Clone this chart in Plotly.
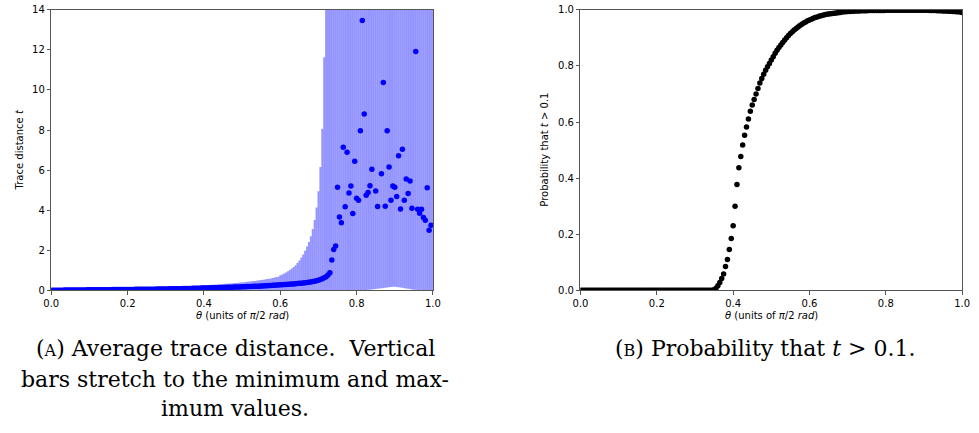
import plotly.graph_objects as go

# ---------------- data ----------------
theta = [
    0.000, 0.005, 0.010, 0.015, 0.020, 0.025, 0.030, 0.035, 0.040, 0.045,
    0.050, 0.055, 0.060, 0.065, 0.070, 0.075, 0.080, 0.085, 0.090, 0.095,
    0.100, 0.105, 0.110, 0.115, 0.120, 0.125, 0.130, 0.135, 0.140, 0.145,
    0.150, 0.155, 0.160, 0.165, 0.170, 0.175, 0.180, 0.185, 0.190, 0.195,
    0.200, 0.205, 0.210, 0.215, 0.220, 0.225, 0.230, 0.235, 0.240, 0.245,
    0.250, 0.255, 0.260, 0.265, 0.270, 0.275, 0.280, 0.285, 0.290, 0.295,
    0.300, 0.305, 0.310, 0.315, 0.320, 0.325, 0.330, 0.335, 0.340, 0.345,
    0.350, 0.355, 0.360, 0.365, 0.370, 0.375, 0.380, 0.385, 0.390, 0.395,
    0.400, 0.405, 0.410, 0.415, 0.420, 0.425, 0.430, 0.435, 0.440, 0.445,
    0.450, 0.455, 0.460, 0.465, 0.470, 0.475, 0.480, 0.485, 0.490, 0.495,
    0.500, 0.505, 0.510, 0.515, 0.520, 0.525, 0.530, 0.535, 0.540, 0.545,
    0.550, 0.555, 0.560, 0.565, 0.570, 0.575, 0.580, 0.585, 0.590, 0.595,
    0.600, 0.605, 0.610, 0.615, 0.620, 0.625, 0.630, 0.635, 0.640, 0.645,
    0.650, 0.655, 0.660, 0.665, 0.670, 0.675, 0.680, 0.685, 0.690, 0.695,
    0.700, 0.705, 0.710, 0.715, 0.720, 0.725, 0.730, 0.735, 0.740, 0.745,
    0.750, 0.755, 0.760, 0.765, 0.770, 0.775, 0.780, 0.785, 0.790, 0.795,
    0.800, 0.805, 0.810, 0.815, 0.820, 0.825, 0.830, 0.835, 0.840, 0.845,
    0.850, 0.855, 0.860, 0.865, 0.870, 0.875, 0.880, 0.885, 0.890, 0.895,
    0.900, 0.905, 0.910, 0.915, 0.920, 0.925, 0.930, 0.935, 0.940, 0.945,
    0.950, 0.955, 0.960, 0.965, 0.970, 0.975, 0.980, 0.985, 0.990, 0.995,
    1.000,
]

# average trace distance (values above 14 fall outside the visible range)
mean_t = [
    0.000, 0.001, 0.002, 0.003, 0.004, 0.005, 0.006, 0.007, 0.008, 0.009,
    0.010, 0.011, 0.012, 0.013, 0.014, 0.015, 0.016, 0.017, 0.018, 0.019,
    0.020, 0.021, 0.022, 0.023, 0.024, 0.025, 0.026, 0.027, 0.028, 0.029,
    0.030, 0.031, 0.032, 0.033, 0.034, 0.035, 0.036, 0.037, 0.038, 0.039,
    0.040, 0.041, 0.042, 0.043, 0.044, 0.045, 0.046, 0.047, 0.048, 0.049,
    0.050, 0.051, 0.053, 0.054, 0.056, 0.057, 0.059, 0.060, 0.062, 0.063,
    0.065, 0.067, 0.069, 0.071, 0.073, 0.075, 0.077, 0.079, 0.081, 0.083,
    0.085, 0.088, 0.090, 0.093, 0.095, 0.098, 0.100, 0.103, 0.105, 0.108,
    0.110, 0.113, 0.116, 0.119, 0.122, 0.125, 0.128, 0.131, 0.134, 0.137,
    0.140, 0.143, 0.146, 0.149, 0.152, 0.155, 0.158, 0.161, 0.164, 0.167,
    0.170, 0.174, 0.178, 0.182, 0.186, 0.190, 0.194, 0.198, 0.202, 0.206,
    0.210, 0.216, 0.222, 0.228, 0.234, 0.240, 0.246, 0.252, 0.258, 0.264,
    0.270, 0.276, 0.282, 0.289, 0.296, 0.303, 0.310, 0.318, 0.326, 0.335,
    0.345, 0.355, 0.366, 0.378, 0.391, 0.404, 0.418, 0.433, 0.449, 0.474,
    0.505, 0.540, 0.575, 0.620, 0.680, 0.760, 0.880, 1.510, 2.030, 2.210,
    5.140, 3.660, 3.370, 7.140, 4.170, 6.890, 4.860, 5.200, 3.830, 6.440,
    4.590, 4.500, 7.970, 13.470, 8.800, 4.750, 4.880, 5.220, 6.040, 16.500,
    4.950, 4.180, 15.800, 5.820, 10.380, 4.200, 7.960, 6.160, 4.490, 5.200,
    5.140, 4.680, 6.720, 4.060, 7.040, 4.500, 5.560, 4.830, 5.450, 4.100,
    17.200, 11.920, 4.050, 3.840, 4.050, 3.630, 3.500, 5.120, 3.000, 3.250,
    15.100,
]

# maximum trace distance (top of the vertical bars)
max_t = [
    0.000, 0.002, 0.004, 0.006, 0.008, 0.010, 0.012, 0.014, 0.016, 0.018,
    0.020, 0.022, 0.024, 0.026, 0.028, 0.030, 0.032, 0.034, 0.036, 0.038,
    0.040, 0.042, 0.044, 0.046, 0.048, 0.050, 0.052, 0.054, 0.056, 0.058,
    0.060, 0.062, 0.064, 0.066, 0.068, 0.070, 0.072, 0.074, 0.076, 0.078,
    0.080, 0.083, 0.086, 0.089, 0.092, 0.095, 0.098, 0.101, 0.104, 0.107,
    0.110, 0.113, 0.117, 0.120, 0.124, 0.127, 0.131, 0.134, 0.138, 0.141,
    0.145, 0.149, 0.153, 0.157, 0.161, 0.165, 0.169, 0.174, 0.179, 0.184,
    0.190, 0.195, 0.200, 0.205, 0.210, 0.216, 0.222, 0.228, 0.234, 0.240,
    0.246, 0.252, 0.258, 0.264, 0.270, 0.277, 0.284, 0.291, 0.298, 0.305,
    0.312, 0.319, 0.326, 0.334, 0.342, 0.350, 0.358, 0.366, 0.374, 0.383,
    0.392, 0.402, 0.412, 0.422, 0.433, 0.444, 0.456, 0.468, 0.481, 0.494,
    0.508, 0.523, 0.539, 0.556, 0.574, 0.593, 0.613, 0.634, 0.656, 0.680,
    0.750, 0.790, 0.840, 0.890, 0.950, 1.010, 1.080, 1.160, 1.250, 1.360,
    1.480, 1.640, 1.790, 1.970, 2.180, 2.410, 2.700, 3.060, 3.510, 4.130,
    4.940, 6.160, 8.060, 11.640, 22.000, 35.000, 48.0, 55.0, 60.0, 66.0,
    74.0, 70.0, 82.0, 90.0, 78.0, 95.0, 88.0, 102.0, 97.0, 110.0,
    105.0, 118.0, 125.0, 140.0, 132.0, 120.0, 128.0, 135.0, 142.0, 150.0,
    138.0, 130.0, 155.0, 145.0, 160.0, 136.0, 152.0, 148.0, 139.0, 144.0,
    150.0, 141.0, 158.0, 133.0, 162.0, 140.0, 147.0, 138.0, 143.0, 131.0,
    165.0, 170.0, 129.0, 126.0, 134.0, 122.0, 118.0, 137.0, 112.0, 115.0,
    150.0,
]

# minimum trace distance (bottom of the vertical bars)
min_t = [
    0.00, 0.00, 0.00, 0.00, 0.00, 0.00, 0.00, 0.00, 0.00, 0.00,
    0.00, 0.00, 0.00, 0.00, 0.00, 0.00, 0.00, 0.00, 0.00, 0.00,
    0.00, 0.00, 0.00, 0.00, 0.00, 0.00, 0.00, 0.00, 0.00, 0.00,
    0.00, 0.00, 0.00, 0.00, 0.00, 0.00, 0.00, 0.00, 0.00, 0.00,
    0.00, 0.00, 0.00, 0.00, 0.00, 0.00, 0.00, 0.00, 0.00, 0.00,
    0.00, 0.00, 0.00, 0.00, 0.00, 0.00, 0.00, 0.00, 0.00, 0.00,
    0.00, 0.00, 0.00, 0.00, 0.00, 0.00, 0.00, 0.00, 0.00, 0.00,
    0.00, 0.00, 0.00, 0.00, 0.00, 0.00, 0.00, 0.00, 0.00, 0.00,
    0.00, 0.00, 0.00, 0.00, 0.00, 0.00, 0.00, 0.00, 0.00, 0.00,
    0.00, 0.00, 0.00, 0.00, 0.00, 0.00, 0.00, 0.00, 0.00, 0.00,
    0.00, 0.00, 0.00, 0.00, 0.00, 0.00, 0.00, 0.00, 0.00, 0.00,
    0.00, 0.00, 0.00, 0.00, 0.00, 0.00, 0.00, 0.00, 0.00, 0.00,
    0.00, 0.00, 0.00, 0.00, 0.00, 0.00, 0.00, 0.00, 0.00, 0.00,
    0.00, 0.00, 0.00, 0.00, 0.00, 0.00, 0.00, 0.00, 0.00, 0.00,
    0.00, 0.00, 0.00, 0.00, 0.00, 0.00, 0.00, 0.00, 0.00, 0.00,
    0.00, 0.00, 0.00, 0.00, 0.00, 0.00, 0.00, 0.00, 0.00, 0.00,
    0.00, 0.00, 0.00, 0.00, 0.01, 0.01, 0.02, 0.03, 0.04, 0.05,
    0.06, 0.07, 0.09, 0.10, 0.11, 0.12, 0.14, 0.15, 0.16, 0.17,
    0.17, 0.16, 0.15, 0.14, 0.12, 0.10, 0.09, 0.07, 0.06, 0.04,
    0.03, 0.02, 0.01, 0.01, 0.00, 0.00, 0.00, 0.00, 0.00, 0.00,
    0.00,
]

# probability that t > 0.1
prob = [
    0.000, 0.000, 0.000, 0.000, 0.000, 0.000, 0.000, 0.000, 0.000, 0.000,
    0.000, 0.000, 0.000, 0.000, 0.000, 0.000, 0.000, 0.000, 0.000, 0.000,
    0.000, 0.000, 0.000, 0.000, 0.000, 0.000, 0.000, 0.000, 0.000, 0.000,
    0.000, 0.000, 0.000, 0.000, 0.000, 0.000, 0.000, 0.000, 0.000, 0.000,
    0.000, 0.000, 0.000, 0.000, 0.000, 0.000, 0.000, 0.000, 0.000, 0.000,
    0.000, 0.000, 0.000, 0.000, 0.000, 0.000, 0.000, 0.000, 0.000, 0.000,
    0.000, 0.000, 0.000, 0.000, 0.000, 0.000, 0.000, 0.000, 0.000, 0.000,
    0.002, 0.007, 0.016, 0.028, 0.042, 0.058, 0.085, 0.110, 0.145, 0.185,
    0.230, 0.300, 0.377, 0.437, 0.477, 0.518, 0.553, 0.582, 0.611, 0.638,
    0.661, 0.680, 0.700, 0.720, 0.739, 0.755, 0.770, 0.785, 0.797, 0.809,
    0.821, 0.833, 0.845, 0.856, 0.866, 0.875, 0.884, 0.893, 0.901, 0.909,
    0.916, 0.922, 0.928, 0.934, 0.939, 0.944, 0.949, 0.953, 0.957, 0.961,
    0.964, 0.967, 0.970, 0.973, 0.975, 0.977, 0.979, 0.981, 0.983, 0.984,
    0.985, 0.986, 0.987, 0.988, 0.989, 0.990, 0.991, 0.992, 0.993, 0.993,
    0.994, 0.994, 0.995, 0.995, 0.996, 0.996, 0.996, 0.997, 0.997, 0.997,
    0.997, 0.998, 0.998, 0.998, 0.998, 0.998, 0.998, 0.998, 0.998, 0.998,
    0.999, 0.999, 0.999, 0.999, 0.999, 0.999, 0.999, 0.999, 0.999, 0.999,
    0.999, 0.999, 0.999, 0.999, 0.999, 0.999, 0.999, 0.999, 0.999, 0.999,
    0.999, 0.999, 0.999, 0.998, 0.998, 0.998, 0.998, 0.997, 0.997, 0.997,
    0.996, 0.996, 0.996, 0.995, 0.995, 0.994, 0.994, 0.993, 0.993, 0.992,
    0.991,
]

x_ticks = [0.0, 0.2, 0.4, 0.6, 0.8, 1.0]
y_ticks_a = [0, 2, 4, 6, 8, 10, 12, 14]
y_ticks_b = [0.0, 0.2, 0.4, 0.6, 0.8, 1.0]

err_plus = [mx - m for mx, m in zip(max_t, mean_t)]
err_minus = [m - mn for m, mn in zip(mean_t, min_t)]

# ---------------- layout helpers ----------------
W, H = 979, 433


def px(x):
    return x / W


def py(y):
    return 1 - y / H


AX_COL = "#555555"
TICK_FONT = dict(family="DejaVu Sans", size=10, color="#000000")

fig = go.Figure()

fig.add_trace(go.Scatter(
    x=theta, y=mean_t, mode="markers", xaxis="x", yaxis="y",
    marker=dict(color="#0000ff", size=5.5, line=dict(width=0)),
    error_y=dict(type="data", symmetric=False, array=err_plus,
                 arrayminus=err_minus, color="rgba(0,0,255,0.42)",
                 thickness=1.9, width=0),
    cliponaxis=True, hoverinfo="skip",
))

fig.add_trace(go.Scatter(
    x=theta, y=prob, mode="markers", xaxis="x2", yaxis="y2",
    marker=dict(color="#000000", size=5.5, line=dict(width=0)),
    cliponaxis=True, hoverinfo="skip",
))

axis_common = dict(
    showgrid=False, zeroline=False, showline=True, linecolor=AX_COL,
    linewidth=1, mirror=True, ticks="outside", ticklen=3.5,
    tickcolor=AX_COL, tickwidth=1, tickfont=TICK_FONT,
    ticklabeloverflow="allow",
)

fig.update_layout(
    width=W, height=H,
    margin=dict(l=0, r=0, t=0, b=0),
    paper_bgcolor="white", plot_bgcolor="white",
    showlegend=False,
    xaxis=dict(domain=[px(44), px(432)], range=[0, 1], tickvals=x_ticks,
               tickformat=".1f", anchor="y", **axis_common),
    yaxis=dict(domain=[py(292), py(5)], range=[0, 14], tickvals=y_ticks_a,
               anchor="x", **axis_common),
    xaxis2=dict(domain=[px(582), px(970)], range=[0, 1], tickvals=x_ticks,
                tickformat=".1f", anchor="y2", **axis_common),
    yaxis2=dict(domain=[py(292), py(5)], range=[0, 1], tickvals=y_ticks_b,
                tickformat=".1f", anchor="x2", **axis_common),
)

LABEL_FONT = dict(family="DejaVu Sans", size=10, color="#000000")
CAP_FONT = dict(family="DejaVu Serif", size=22, color="#000000")


def ann(text, x, y, font, angle=0, xanchor="center"):
    fig.add_annotation(text=text, x=px(x), y=py(y), xref="paper",
                       yref="paper", showarrow=False, font=font,
                       textangle=angle, xanchor=xanchor, yanchor="middle")


# axis titles
ann("Trace distance <i>t</i>", 12, 148, LABEL_FONT, angle=-90)
ann("Probability that <i>t</i> > 0.1", 546, 148, LABEL_FONT, angle=-90)
ann("<i>θ</i> (units of <i>π</i>/2 <i>rad</i>)", 238, 318, LABEL_FONT)
ann("<i>θ</i> (units of <i>π</i>/2 <i>rad</i>)", 776, 318, LABEL_FONT)

# captions
ann("(<span style='font-size:16px'>A</span>) Average trace distance.  Vertical",
    231, 352, CAP_FONT)
ann("bars stretch to the minimum and max-", 231, 383, CAP_FONT)
ann("imum values.", 231, 413, CAP_FONT)
ann("(<span style='font-size:16px'>B</span>) Probability that <i>t</i> > 0.1.",
    770, 352, CAP_FONT)

fig.write_html("out.html")
